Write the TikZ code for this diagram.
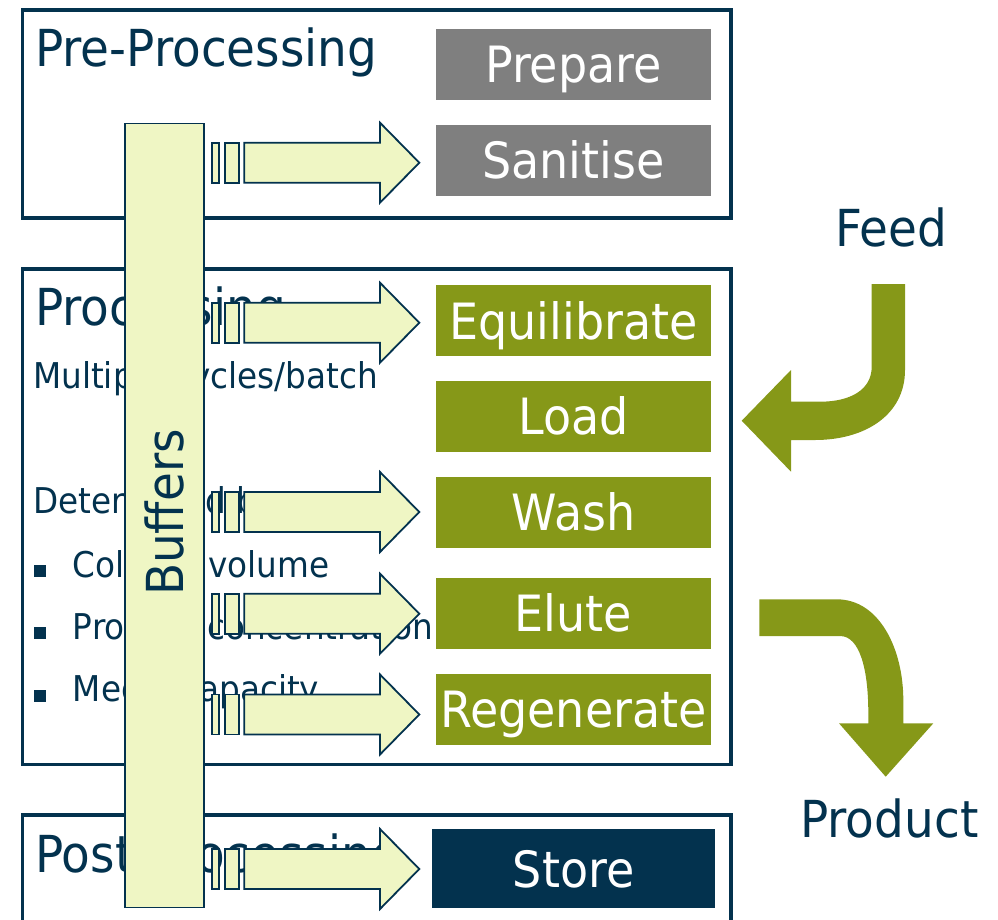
\documentclass[tikz,border=0pt]{standalone}
\usepackage{fontspec}
\setmainfont{DejaVu Sans}[FakeStretch=0.92]
\definecolor{navy}{HTML}{03324E}
\definecolor{olive}{HTML}{869818}
\definecolor{stepgray}{HTML}{7F7F7F}
\definecolor{pale}{HTML}{EFF6C4}
\tikzset{
  pics/bufarrow/.style={code={
    \draw[pale arrow] (212.3,-20) rectangle (219.3,20);
    \draw[pale arrow] (225,-20) rectangle (238.7,20);
    \draw[pale arrow] (244.3,-20) -- (380,-20) -- (380,-40) -- (419.3,0)
      -- (380,40) -- (380,20) -- (244.3,20) -- cycle;
  }}
}
\begin{document}
\begin{tikzpicture}[x=1pt,y=-1pt,
  region/.style={draw=navy, line width=3.5pt, inner sep=0pt, anchor=north west},
  stepbox/.style={inner sep=0pt, text=white, font=\fontsize{50}{50}\selectfont,
    text height=36.5pt, text depth=0pt, minimum width=275pt, minimum height=71pt},
  title/.style={anchor=base west, text=navy, font=\fontsize{51}{51}\selectfont, inner sep=0pt},
  note/.style={anchor=base west, text=navy, font=\fontsize{35.5}{35.5}\selectfont, inner sep=0pt},
  bullet/.style={fill=navy, inner sep=0pt, minimum size=12pt, anchor=south west},
  pale arrow/.style={fill=pale, draw=navy, line width=1.8pt, line join=miter},
  big arrow/.style={fill=olive, draw=none}]
\useasboundingbox (0,0) rectangle (998,919);
\clip (0,0) rectangle (998,919);

% stage frames
\node[region, minimum width=708.5pt, minimum height=208pt] (pre) at (20.5,8) {};
\node[region, minimum width=708.5pt, minimum height=495.7pt] (proc) at (20.5,267) {};
\node[region, minimum width=708.5pt, minimum height=150pt] (post) at (20.5,813.3) {};

% stage titles and notes
\node[title] (pretitle) at (35,66.7) {Pre-Processing};
\node[title] (proctitle) at (35,325.5) {Processing};
\node[title] (posttitle) at (35,872) {Post-Processing};
\node[note] (cycles) at (33,388.3) {Multiple cycles/batch};
\node[note] (determined) at (33,513.3) {Determined by:};
\node[bullet] (bul1) at (33.3,577.3) {};
\node[bullet] (bul2) at (33.3,639.3) {};
\node[bullet] (bul3) at (33.3,701.7) {};
\node[note] (colvol) at (72.7,577.3) {Column volume};
\node[note] (prodconc) at (72.7,639.3) {Product concentration};
\node[note] (medcap) at (72.7,701.7) {Media capacity};

% buffer column
\node[draw=navy, fill=pale, line width=1.5pt, inner sep=0pt, anchor=north west,
  minimum width=79.3pt, minimum height=784pt] (buf) at (124,122.7) {};
\node[rotate=90, anchor=base, text=navy, inner sep=0pt,
  font=\fontsize{51}{51}\selectfont] (buflabel) at (183.3,512.5) {Buffers};

% buffer feeds into the steps
\pic at (0,162.7) {bufarrow};
\pic at (0,322.7) {bufarrow};
\pic at (0,512) {bufarrow};
\pic at (0,613.7) {bufarrow};
\pic at (0,714.5) {bufarrow};
\pic at (0,869) {bufarrow};

% steps
\node[stepbox, fill=stepgray] (prepare) at (573.5,64.5) {Prepare};
\node[stepbox, fill=stepgray] (sanitise) at (573.5,160.5) {Sanitise};
\node[stepbox, fill=olive] (equil) at (573.5,320.8) {Equilibrate};
\node[stepbox, fill=olive] (load) at (573.5,416.7) {Load};
\node[stepbox, fill=olive] (wash) at (573.5,512.5) {Wash};
\node[stepbox, fill=olive] (elute) at (573.5,613.2) {Elute};
\node[stepbox, fill=olive] (regen) at (573.5,709) {Regenerate};
\node[stepbox, fill=navy, minimum width=282.7pt, minimum height=79pt] (store) at (573.7,868.8) {Store};

% feed in and product out
\node[title] (feed) at (835,246.7) {Feed};
\node[title] (product) at (800,837) {Product};
\fill[big arrow] (905,284) -- (905,370) .. controls (905,415) and (865,440) .. (815,440)
  -- (791,440) -- (791,471.7) -- (741.7,420.7) -- (791,370) -- (791,401.7) -- (820,401.7)
  .. controls (850,401.7) and (871.7,390) .. (871.7,366.7) -- (871.7,284) -- cycle;
\fill[big arrow] (759.3,599.3) -- (836.7,599.3) .. controls (880,599.3) and (903.3,650) .. (903.3,700)
  -- (903.3,723.3) -- (933.3,723.3) -- (885.7,776.7) -- (839,723.3) -- (868.3,723.3) -- (868.3,713)
  .. controls (868.3,670) and (860,636) .. (840,636) -- (759.3,636) -- cycle;
\end{tikzpicture}
\end{document}
